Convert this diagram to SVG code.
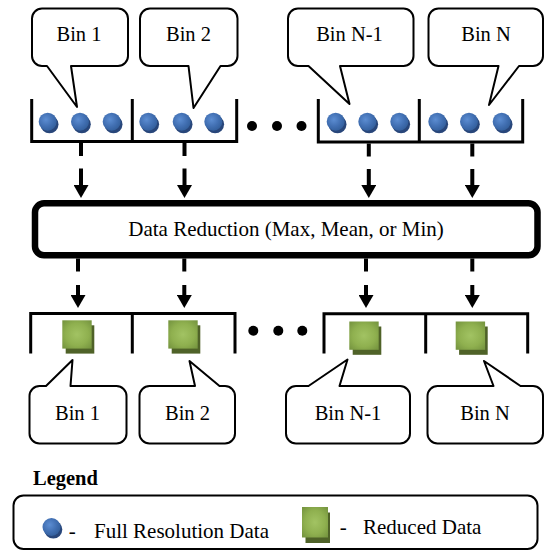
<svg xmlns="http://www.w3.org/2000/svg" xmlns:xlink="http://www.w3.org/1999/xlink" width="545" height="552" viewBox="0 0 545 552">
<style>
.co{fill:#fff;stroke:#000;stroke-width:2;stroke-linejoin:round}
.t{font-family:"Liberation Serif","Times New Roman",serif;font-size:20.5px;fill:#000}
.bt{text-anchor:middle}
.wall{fill:none;stroke:#000;stroke-width:3}
.conn{fill:none;stroke:#000;stroke-width:4}
.up{stroke-dasharray:13 12.5 20}
.dn{stroke-dasharray:13 13.5 20}
.dot{fill:#000}
</style>
<defs>
<radialGradient id="blueG" cx="40%" cy="38%" r="65%">
<stop offset="0" stop-color="#5c8dd2"/>
<stop offset="0.6" stop-color="#416fb2"/>
<stop offset="1" stop-color="#335f9c"/>
</radialGradient>
<radialGradient id="greenG" cx="50%" cy="50%" r="65%">
<stop offset="0" stop-color="#a2c363"/>
<stop offset="0.6" stop-color="#8fb04f"/>
<stop offset="1" stop-color="#779640"/>
</radialGradient>
<g id="ball">
<circle cx="1.8" cy="2.6" r="9" fill="#28467a"/>
<circle cx="0" cy="0" r="9" fill="url(#blueG)"/>
</g>
<g id="sq">
<rect x="3.4" y="5" width="28.6" height="28.3" fill="#4f6228"/>
<rect x="0" y="0" width="29.4" height="28.3" fill="url(#greenG)"/>
</g>
<marker id="ah" markerUnits="userSpaceOnUse" markerWidth="14" markerHeight="15" refX="1" refY="7.5" orient="auto">
<path d="M0,0 L13,7.5 L0,15 Z" fill="#000"/>
</marker>
</defs>

<g id="tray-top-left">
<path class="wall" d="M31.7,99 V141.5 H236.7 V99 M132.3,99 V141.5"/>
<use href="#ball" x="47.7" y="121.7"/>
<use href="#ball" x="80" y="121.7"/>
<use href="#ball" x="111.7" y="121.7"/>
<use href="#ball" x="148.3" y="121.7"/>
<use href="#ball" x="181.7" y="121.7"/>
<use href="#ball" x="213.3" y="121.7"/>
</g>
<g id="tray-top-right">
<path class="wall" d="M318.3,99 V142 H522.7 V99 M419.3,99 V142"/>
<use href="#ball" x="335.7" y="121.7"/>
<use href="#ball" x="367.3" y="121.7"/>
<use href="#ball" x="399.3" y="121.7"/>
<use href="#ball" x="437.3" y="121.7"/>
<use href="#ball" x="469" y="121.7"/>
<use href="#ball" x="501.7" y="121.7"/>
</g>
<g id="ellipsis-top">
<circle class="dot" cx="252" cy="126" r="5"/>
<circle class="dot" cx="277" cy="126" r="5"/>
<circle class="dot" cx="301.5" cy="126" r="5"/>
</g>

<g id="callout-top-1">
<path class="co" d="M42,8.5 H118 A10,10 0 0 1 128,18.5 V56 A10,10 0 0 1 118,66 H71 L77,107 L47,66 H42 A10,10 0 0 1 32,56 V18.5 A10,10 0 0 1 42,8.5 Z"/>
<text class="t bt" x="79" y="41">Bin 1</text>
</g>
<g id="callout-top-2">
<path class="co" d="M150,8.5 H227.5 A10,10 0 0 1 237.5,18.5 V56 A10,10 0 0 1 227.5,66 H220.5 L193.5,108 L188.5,66 H150 A10,10 0 0 1 140,56 V18.5 A10,10 0 0 1 150,8.5 Z"/>
<text class="t bt" x="188.5" y="41">Bin 2</text>
</g>
<g id="callout-top-n1">
<path class="co" d="M298,8.5 H403.5 A10,10 0 0 1 413.5,18.5 V56 A10,10 0 0 1 403.5,66 H340 L349.5,104 L308.5,66 H298 A10,10 0 0 1 288,56 V18.5 A10,10 0 0 1 298,8.5 Z"/>
<text class="t bt" x="349.5" y="41">Bin N-1</text>
</g>
<g id="callout-top-n">
<path class="co" d="M438.5,8.5 H533 A10,10 0 0 1 543,18.5 V56 A10,10 0 0 1 533,66 H519 L489,105 L498.5,66 H438.5 A10,10 0 0 1 428.5,56 V18.5 A10,10 0 0 1 438.5,8.5 Z"/>
<text class="t bt" x="486" y="41">Bin N</text>
</g>

<g id="reduction">
<rect x="35" y="203.3" width="502.5" height="52" rx="9" fill="#fff" stroke="#000" stroke-width="6.5"/>
<text class="t bt" x="286" y="236" style="font-size:21px">Data Reduction (Max, Mean, or Min)</text>
</g>

<g id="connectors">
<line class="conn up" x1="81" y1="143" x2="81" y2="186" marker-end="url(#ah)"/>
<line class="conn up" x1="184.5" y1="143" x2="184.5" y2="186" marker-end="url(#ah)"/>
<line class="conn up" x1="368.8" y1="143.5" x2="368.8" y2="186" marker-end="url(#ah)"/>
<line class="conn up" x1="472.3" y1="143.5" x2="472.3" y2="186" marker-end="url(#ah)"/>
<line class="conn dn" x1="78" y1="258.5" x2="78" y2="296" marker-end="url(#ah)"/>
<line class="conn dn" x1="184.3" y1="258.5" x2="184.3" y2="296" marker-end="url(#ah)"/>
<line class="conn dn" x1="366" y1="258.5" x2="366" y2="296" marker-end="url(#ah)"/>
<line class="conn dn" x1="472.3" y1="258.5" x2="472.3" y2="296" marker-end="url(#ah)"/>
</g>

<g id="tray-bottom-left">
<path class="wall" d="M30.7,353.5 V313.5 H235 V353.5 M132.3,313.5 V353.5"/>
<use href="#sq" x="62.3" y="320.3"/>
<use href="#sq" x="168.3" y="320.3"/>
</g>
<g id="tray-bottom-right">
<path class="wall" d="M324,353.5 V313.8 H527.7 V353.5 M425.7,313.8 V353.5"/>
<use href="#sq" x="349.3" y="321.5"/>
<use href="#sq" x="455.7" y="321.5"/>
</g>
<g id="ellipsis-bottom">
<circle class="dot" cx="253.3" cy="330.7" r="5"/>
<circle class="dot" cx="278.3" cy="330.7" r="5"/>
<circle class="dot" cx="302.3" cy="330.7" r="5"/>
</g>

<g id="callout-bottom-1">
<path class="co" d="M39.5,386 H46 L72.5,360 L70.5,386 H116.5 A10,10 0 0 1 126.5,396 V433.5 A10,10 0 0 1 116.5,443.5 H39.5 A10,10 0 0 1 29.5,433.5 V396 A10,10 0 0 1 39.5,386 Z"/>
<text class="t bt" x="77.5" y="419.5">Bin 1</text>
</g>
<g id="callout-bottom-2">
<path class="co" d="M149.5,386 H195 L189.5,361 L219.5,386 H225 A10,10 0 0 1 235,396 V433.5 A10,10 0 0 1 225,443.5 H149.5 A10,10 0 0 1 139.5,433.5 V396 A10,10 0 0 1 149.5,386 Z"/>
<text class="t bt" x="187.5" y="419.5">Bin 2</text>
</g>
<g id="callout-bottom-n1">
<path class="co" d="M296,386 H308.5 L347.5,359.5 L339.5,386 H400 A10,10 0 0 1 410,396 V433.5 A10,10 0 0 1 400,443.5 H296 A10,10 0 0 1 286,433.5 V396 A10,10 0 0 1 296,386 Z"/>
<text class="t bt" x="348" y="419.5">Bin N-1</text>
</g>
<g id="callout-bottom-n">
<path class="co" d="M437.5,386 H493.5 L484,361 L520.5,386 H533 A10,10 0 0 1 543,396 V433.5 A10,10 0 0 1 533,443.5 H437.5 A10,10 0 0 1 427.5,433.5 V396 A10,10 0 0 1 437.5,386 Z"/>
<text class="t bt" x="485" y="419.5">Bin N</text>
</g>

<g id="legend">
<text class="t" x="33" y="485" style="font-weight:bold">Legend</text>
<rect x="13.5" y="495.5" width="524" height="53.5" rx="10" fill="#fff" stroke="#000" stroke-width="2"/>
<use href="#ball" x="51.5" y="527"/>
<text class="t" x="68.7" y="538" style="font-size:21px">-</text>
<text class="t" x="94" y="538" style="font-size:21px">Full Resolution Data</text>
<rect x="305.5" y="512.5" width="24.5" height="30.5" fill="#4f6228"/>
<rect x="302" y="507" width="26" height="30.5" fill="url(#greenG)"/>
<text class="t" x="339.8" y="534" style="font-size:21px">-</text>
<text class="t" x="363" y="534" style="font-size:21px">Reduced Data</text>
</g>
</svg>
